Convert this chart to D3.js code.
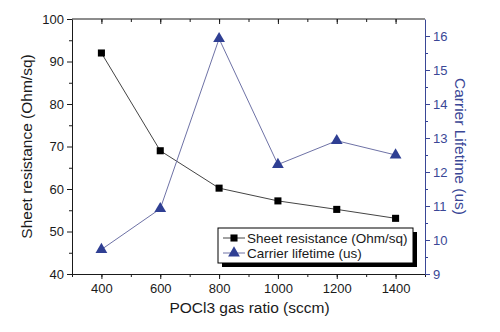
<!DOCTYPE html>
<html><head><meta charset="utf-8">
<script src="https://cdn.jsdelivr.net/npm/d3@7/dist/d3.min.js"></script>
<style>body{margin:0;background:#fff}svg{display:block}text{font-family:"Liberation Sans",Arial,sans-serif}</style>
</head><body><svg id="c" width="500" height="332"></svg>
<script>
const gasRatio = [400, 600, 800, 1000, 1200, 1400];
const sheetResistance = [92, 69, 60.2, 57.2, 55.2, 53.1];
const carrierLifetime = [9.72, 10.92, 15.92, 12.22, 12.92, 12.5];
const xTicks = [400, 600, 800, 1000, 1200, 1400];
const leftTicks = [40, 50, 60, 70, 80, 90, 100];
const rightTicks = [9, 10, 11, 12, 13, 14, 15, 16];
const seriesNames = ["Sheet resistance (Ohm/sq)", "Carrier lifetime (us)"];

const svg = d3.select("#c");
const L = 72, R = 425, T = 19, B = 274;
const blue = "#2f3f93", blueText = "#3a4796", dark = "#1a1a1a";
const x = d3.scaleLinear().domain([300, 1500]).range([L, R]);
const yL = d3.scaleLinear().domain([40, 100]).range([B, T]);
const yR = d3.scaleLinear().domain([9, 16.5]).range([B, T]);
const fmt = d3.format("d");

function styleAxis(g, col) {
  g.selectAll("path").attr("stroke", col).attr("stroke-width", 1);
  g.selectAll("line").attr("stroke", col);
  g.selectAll("text").attr("fill", col).style("font-size", "13px");
}
// minor ticks
svg.append("g").attr("transform", `translate(0,${B})`)
  .call(d3.axisBottom(x).tickValues(d3.range(300, 1501, 100)).tickSize(3).tickFormat(""))
  .call(g => { g.select("path").remove(); g.selectAll("line").attr("stroke", dark); });
svg.append("g").attr("transform", `translate(0,${T})`)
  .call(d3.axisBottom(x).tickValues(d3.range(400, 1401, 100)).tickSize(3).tickFormat(""))
  .call(g => { g.select("path").remove(); g.selectAll("line").attr("stroke", dark); });
svg.append("g").attr("transform", `translate(0,${T})`)
  .call(d3.axisBottom(x).tickValues(xTicks).tickSize(5).tickFormat(""))
  .call(g => { g.select("path").remove(); g.selectAll("line").attr("stroke", dark); });
svg.append("g").attr("transform", `translate(${L},0)`)
  .call(d3.axisLeft(yL).tickValues(d3.range(45, 100, 10)).tickSize(3).tickFormat(""))
  .call(g => { g.select("path").remove(); g.selectAll("line").attr("stroke", dark); });
svg.append("g").attr("transform", `translate(${R},0)`)
  .call(d3.axisRight(yR).tickValues(d3.range(9.5, 16.5, 1)).tickSize(3).tickFormat(""))
  .call(g => { g.select("path").remove(); g.selectAll("line").attr("stroke", blue); });

// top line
svg.append("line").attr("x1", L).attr("x2", R).attr("y1", T).attr("y2", T).attr("stroke", dark);

svg.append("g").attr("transform", `translate(0,${B})`)
  .call(d3.axisBottom(x).tickValues(xTicks).tickFormat(fmt).tickSize(5).tickSizeOuter(0).tickPadding(5))
  .call(g => styleAxis(g, dark));
svg.append("g").attr("transform", `translate(${L},0)`)
  .call(d3.axisLeft(yL).tickValues(leftTicks).tickFormat(fmt).tickSize(5).tickSizeOuter(0).tickPadding(3))
  .call(g => styleAxis(g, dark));
svg.append("g").attr("transform", `translate(${R},0)`)
  .call(d3.axisRight(yR).tickValues(rightTicks).tickFormat(fmt).tickSize(5).tickSizeOuter(0).tickPadding(3))
  .call(g => styleAxis(g, blueText));

// titles
svg.append("text").attr("x", (L + R) / 2 + 1).attr("y", 313).attr("text-anchor", "middle")
  .style("font-size", "15.5px").attr("fill", dark).text("POCl3 gas ratio (sccm)");
svg.append("text").attr("transform", `translate(32,${(T + B) / 2}) rotate(-90)`).attr("text-anchor", "middle")
  .style("font-size", "15.5px").attr("fill", dark).text("Sheet resistance (Ohm/sq)");
svg.append("text").attr("transform", `translate(455,${(T + B) / 2}) rotate(90)`).attr("text-anchor", "middle")
  .style("font-size", "15.5px").attr("fill", blueText).text("Carrier Lifetime (us)");

// series
const d1 = gasRatio.map((g, i) => [g, sheetResistance[i]]);
const d2 = gasRatio.map((g, i) => [g, carrierLifetime[i]]);
svg.append("path").datum(d1).attr("fill", "none").attr("stroke", "#444").attr("stroke-width", 1)
  .attr("d", d3.line().x(d => x(d[0])).y(d => yL(d[1])));
svg.append("path").datum(d2).attr("fill", "none").attr("stroke", "#6e72a6").attr("stroke-width", 1)
  .attr("d", d3.line().x(d => x(d[0])).y(d => yR(d[1])));
const sq = d3.symbol().type(d3.symbolSquare).size(50);
const tri = d3.symbol().type(d3.symbolTriangle).size(60);
svg.selectAll(".sq").data(d1).join("path").attr("d", sq)
  .attr("transform", d => `translate(${x(d[0])},${yL(d[1])})`).attr("fill", "#000");
svg.selectAll(".tri").data(d2).join("path").attr("d", tri)
  .attr("transform", d => `translate(${x(d[0])},${yR(d[1])})`).attr("fill", blue);

// legend
const lx = 218, ly = 228, lw = 195, lh = 35;
svg.append("rect").attr("x", lx + 4).attr("y", ly + 4).attr("width", lw).attr("height", lh).attr("fill", "#000");
svg.append("rect").attr("x", lx).attr("y", ly).attr("width", lw).attr("height", lh).attr("fill", "#fff").attr("stroke", "#000").attr("stroke-width", 1);
const items = [{c: "#444", m: sq, f: "#000"}, {c: "#6e72a6", m: tri, f: blue}];
items.forEach((it, i) => {
  const yy = ly + 10 + i * 15;
  svg.append("line").attr("x1", lx + 5).attr("x2", lx + 27).attr("y1", yy).attr("y2", yy).attr("stroke", it.c);
  svg.append("path").attr("d", it.m).attr("transform", `translate(${lx + 16},${yy})`).attr("fill", it.f);
  svg.append("text").attr("x", lx + 29).attr("y", yy + 5).style("font-size", "13.5px").attr("fill", dark).text(seriesNames[i]);
});
</script></body></html>
